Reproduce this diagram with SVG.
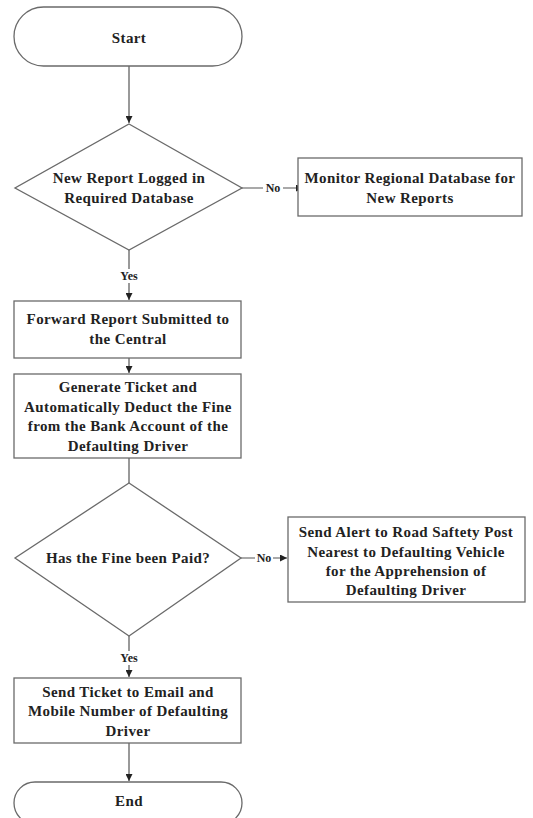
<svg xmlns="http://www.w3.org/2000/svg" width="533" height="818" viewBox="0 0 533 818">
<defs>
<style>
.shape{fill:#fff;stroke:#6a6a6a;stroke-width:1.3}
.t{font-family:'Liberation Serif','Times New Roman',Times,serif;font-weight:700;font-size:15px;letter-spacing:0.4px;fill:#222;text-anchor:middle;dominant-baseline:central}
.lbl{font-family:'Liberation Serif','Times New Roman',Times,serif;font-weight:700;font-size:12px;fill:#222;text-anchor:middle;dominant-baseline:central}
.c{fill:none;stroke:#555;stroke-width:1.2}
</style>
<marker id="ah" viewBox="0 0 10 10" refX="10" refY="5" markerWidth="7" markerHeight="7" markerUnits="userSpaceOnUse" orient="auto">
<path d="M0,0 L10,5 L0,10 z" fill="#222"/>
</marker>
</defs>
<rect width="533" height="818" fill="#fff"/>
<g id="connectors">
<path class="c" d="M129,66 V123" marker-end="url(#ah)"/>
<path class="c" d="M241,188 H303" marker-end="url(#ah)"/>
<rect x="263" y="181" width="20" height="14" fill="#fff"/>
<text class="lbl" x="273" y="188">No</text>
<path class="c" d="M129,250 V300" marker-end="url(#ah)"/>
<rect x="117" y="269" width="24" height="14" fill="#fff"/>
<text class="lbl" x="129" y="276">Yes</text>
<path class="c" d="M129,358 V373" marker-end="url(#ah)"/>
<path class="c" d="M129,458 V483"/>
<path class="c" d="M241,558 H287" marker-end="url(#ah)"/>
<rect x="255" y="551" width="18" height="14" fill="#fff"/>
<text class="lbl" x="264" y="558">No</text>
<path class="c" d="M129,636 V677" marker-end="url(#ah)"/>
<rect x="117" y="651" width="24" height="14" fill="#fff"/>
<text class="lbl" x="129" y="658">Yes</text>
<path class="c" d="M129,743 V781" marker-end="url(#ah)"/>
</g>
<g id="start">
<rect class="shape" x="14" y="7" width="228" height="59" rx="29.5"/>
<text class="t" x="129" y="38">Start</text>
</g>
<g id="decision1">
<polygon class="shape" points="129,124 242,188 129,250 15,188"/>
<text class="t" x="129" y="178">New Report Logged in</text>
<text class="t" x="129" y="198">Required Database</text>
</g>
<g id="monitor">
<rect class="shape" x="298" y="158" width="224" height="58"/>
<text class="t" x="410" y="178">Monitor Regional Database for</text>
<text class="t" x="410" y="198">New Reports</text>
</g>
<g id="forward">
<rect class="shape" x="14" y="301" width="227" height="57"/>
<text class="t" x="128" y="319">Forward Report Submitted to</text>
<text class="t" x="128" y="339">the Central</text>
</g>
<g id="generate">
<rect class="shape" x="14" y="374" width="227" height="84"/>
<text class="t" x="128" y="387">Generate Ticket and</text>
<text class="t" x="128" y="407">Automatically Deduct the Fine</text>
<text class="t" x="128" y="426">from the Bank Account of the</text>
<text class="t" x="128" y="446">Defaulting Driver</text>
</g>
<g id="decision2">
<polygon class="shape" points="129,483 241,558 129,636 15,558"/>
<text class="t" x="128" y="558">Has the Fine been Paid?</text>
</g>
<g id="alert">
<rect class="shape" x="288" y="517" width="237" height="85"/>
<text class="t" x="406" y="532">Send Alert to Road Saftety Post</text>
<text class="t" x="406" y="552">Nearest to Defaulting Vehicle</text>
<text class="t" x="406" y="571">for the Apprehension of</text>
<text class="t" x="406" y="590">Defaulting Driver</text>
</g>
<g id="sendticket">
<rect class="shape" x="14" y="678" width="227" height="65"/>
<text class="t" x="128" y="692">Send Ticket to Email and</text>
<text class="t" x="128" y="711">Mobile Number of Defaulting</text>
<text class="t" x="128" y="731">Driver</text>
</g>
<g id="end">
<rect class="shape" x="14" y="782" width="228" height="42" rx="21"/>
<text class="t" x="129" y="801">End</text>
</g>
</svg>
